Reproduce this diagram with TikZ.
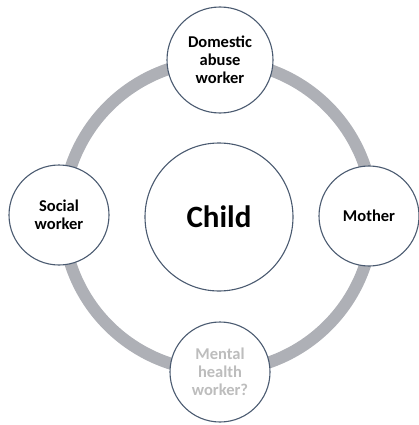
\documentclass[tikz,border=0pt]{standalone}
\usepackage{fontspec}
\setmainfont{Carlito}
\definecolor{ringgray}{HTML}{AEB0B6}
\definecolor{edgeblue}{HTML}{4A5A70}
\definecolor{fadedtext}{HTML}{BDBDBD}
\begin{document}
\begin{tikzpicture}[x=1pt,y=-1pt,
  party/.style={circle,draw=edgeblue,line width=1.1pt,fill=white,
    minimum size=100pt,inner sep=0pt,align=center,
    font=\fontsize{16.5}{18}\selectfont\bfseries},
  hub/.style={party,minimum size=148pt,font=\fontsize{31}{34}\selectfont\bfseries}]
  \useasboundingbox (0,0) rectangle (418,425);
  % connecting ring behind the circles
  \draw[ringgray,line width=12pt] (218,216) circle[radius=155];
  \node[hub] (child) at (219,217) {Child};
  \node[party,minimum size=106pt] (dom) at (220,60) {Domestic\\abuse\\worker};
  \node[party] (soc) at (59,215) {Social\\worker};
  \node[party] (mom) at (369,216) {Mother};
  \node[party,text=fadedtext] (mh) at (220,372) {Mental\\health\\worker?};
\end{tikzpicture}
\end{document}
